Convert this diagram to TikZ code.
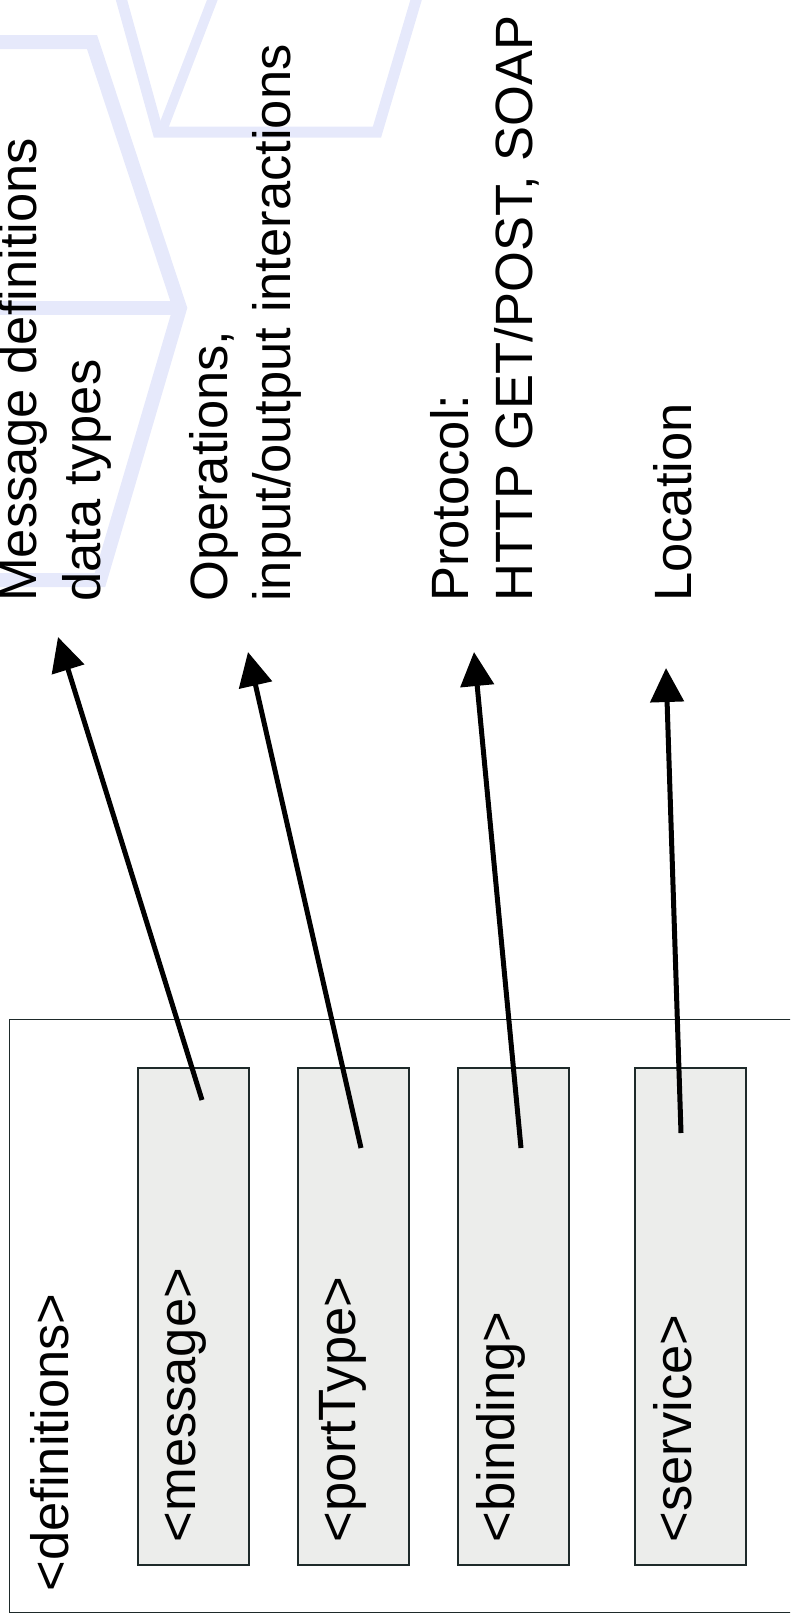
\documentclass[tikz,border=0pt]{standalone}
\usepackage{fontspec}
\setmainfont{Liberation Sans}
\usetikzlibrary{arrows.meta}
\definecolor{wm}{HTML}{E6E9FB}
\definecolor{boxfill}{HTML}{ECEDEB}
\definecolor{edge}{HTML}{1E2A2A}
\begin{document}
\begin{tikzpicture}[x=1pt,y=-1pt,
  lbl/.style={rotate=90,anchor=base west,inner sep=0pt,font=\fontsize{52.5}{60}\selectfont},
  part/.style={draw=edge,fill=boxfill,line width=1.6pt,minimum width=111pt,minimum height=497pt,inner sep=0pt,anchor=north west},
  frame/.style={draw=edge,line width=1.4pt,minimum width=811pt,minimum height=593pt,inner sep=0pt,anchor=north west},
  conn/.style={line width=5pt,-{Triangle[length=34pt,width=33pt]}},
  wmline/.style={draw=wm,line width=14pt,line join=miter}]
\useasboundingbox (0,0) rectangle (790,1622);
\clip (0,0) rectangle (790,1622);
% watermark
\path[wmline] (-20,42) -- (92,42) -- (180,308) -- (100,580) -- (-20,580);
\path[wmline] (-20,308) -- (180,308);
\path[wmline,line width=11pt] (116,-20) -- (158,132) -- (377,132) -- (422,-20);
\path[wmline,line width=10pt] (220,-20) -- (163,128);
% frame and parts
\node[frame] (defs) at (9,1019) {};
\node[part] (msg) at (137,1067) {};
\node[part] (pt) at (297,1067) {};
\node[part] (bind) at (457,1067) {};
\node[part] (serv) at (634,1067) {};
% labels in boxes
\node[lbl] (ldef) at (68,1591.5) {<definitions>};
\node[lbl] (lmsg) at (195,1542.5) {<message>};
\node[lbl] (lpt) at (355,1542.5) {<portType>};
\node[lbl] (lbind) at (514,1542.5) {<binding>};
\node[lbl] (lserv) at (691,1542.5) {<service>};
% descriptions
\node[lbl] (dmsgA) at (36,602) {Message definitions};
\node[lbl] (dmsgB) at (100,602) {data types};
\node[lbl] (dptA) at (227,602) {Operations,};
\node[lbl] (dptB) at (290,602) {input/output interactions};
\node[lbl] (dbindA) at (468,602) {Protocol:};
\node[lbl] (dbindB) at (532,602) {HTTP GET/POST, SOAP};
\node[lbl] (dserv) at (691,602) {Location};
% connector ends
\coordinate (msgT) at (202,1100);
\coordinate (msgH) at (58,637);
\coordinate (ptT) at (361,1148);
\coordinate (ptH) at (248,652);
\coordinate (bindT) at (521,1148);
\coordinate (bindH) at (474,652);
\coordinate (servT) at (681,1133);
\coordinate (servH) at (666,668);
\draw[conn] (msgT) -- (msgH);
\draw[conn] (ptT) -- (ptH);
\draw[conn] (bindT) -- (bindH);
\draw[conn] (servT) -- (servH);
\end{tikzpicture}
\end{document}
